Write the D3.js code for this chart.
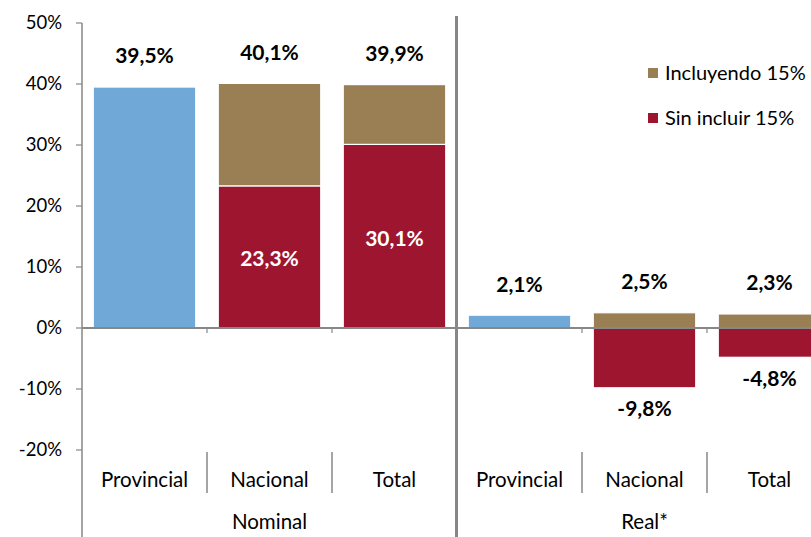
<!DOCTYPE html>
<html><head><meta charset="utf-8">
<script src="https://cdn.jsdelivr.net/npm/d3@7"></script>
<style>body{margin:0;background:#fff;} svg{display:block;}</style>
</head><body>
<script>
const categories = ["Provincial","Nacional","Total","Provincial","Nacional","Total"];
const groups = ["Nominal","Real*"];
const provincial = [39.5, null, null, 2.1, null, null];
const sinIncluir = [null, 23.3, 30.1, null, -9.8, -4.8];
const incluyendo = [null, 40.1, 39.9, null, 2.5, 2.3];
const yTicks = [-20,-10,0,10,20,30,40,50];
const legendLabels = ["Incluyendo 15%","Sin incluir 15%"];

const W=811,H=537;
const cBlue="#70A9D8", cBrown="#9A7F55", cRed="#9E1530", cGray="#878787";
const font="Lato, 'Open Sans', sans-serif";
const fmt = v => d3.format(".1f")(v).replace(".",",").replace("\u2212","-")+"%";

const svg=d3.select("body").append("svg").attr("width",W).attr("height",H);
const x=d3.scaleBand().domain(d3.range(categories.length)).range([82,832]).paddingInner(0.18).paddingOuter(0.09);
const y=d3.scaleLinear().domain([-20,50]).range([450,23]);
const step=x.step();
const slotStart=i=>82+i*step;

// bars
const g=svg.append("g");
categories.forEach((c,i)=>{
  const bx=x(i), bw=x.bandwidth();
  if(provincial[i]!=null){
    g.append("rect").attr("x",bx).attr("width",bw).attr("y",y(provincial[i])).attr("height",y(0)-y(provincial[i]))
     .attr("fill",cBlue).attr("stroke","#fff").attr("stroke-width",1.2);
  }
  if(sinIncluir[i]!=null){
    const v=sinIncluir[i];
    g.append("rect").attr("x",bx).attr("width",bw).attr("y",y(Math.max(0,v))).attr("height",Math.abs(y(v)-y(0)))
     .attr("fill",cRed).attr("stroke","#fff").attr("stroke-width",1.2);
  }
  if(incluyendo[i]!=null){
    const base=Math.max(0,sinIncluir[i]||0);
    g.append("rect").attr("x",bx).attr("width",bw).attr("y",y(incluyendo[i])).attr("height",y(base)-y(incluyendo[i]))
     .attr("fill",cBrown).attr("stroke","#fff").attr("stroke-width",1.2);
  }
});

// y axis
svg.append("line").attr("x1",82).attr("x2",82).attr("y1",y(50)).attr("y2",H).attr("stroke",cGray).attr("stroke-width",1.5);
yTicks.forEach(t=>{
  svg.append("line").attr("x1",76).attr("x2",82).attr("y1",y(t)).attr("y2",y(t)).attr("stroke",cGray).attr("stroke-width",1.2);
  svg.append("text").attr("x",62).attr("y",y(t)).attr("dy","0.35em").attr("text-anchor","end")
    .attr("font-family",font).attr("font-size",18.5).attr("fill","#000").text(t+"%");
});
// zero line
svg.append("line").attr("x1",82).attr("x2",W).attr("y1",y(0)).attr("y2",y(0)).attr("stroke",cGray).attr("stroke-width",2);
// category separators and ticks
[1,2,4,5].forEach(i=>{
  const sx=slotStart(i);
  svg.append("line").attr("x1",sx).attr("x2",sx).attr("y1",y(0)).attr("y2",y(0)+5).attr("stroke",cGray).attr("stroke-width",1.2);
  svg.append("line").attr("x1",sx).attr("x2",sx).attr("y1",452).attr("y2",493).attr("stroke",cGray).attr("stroke-width",1.5);
});
// group divider
svg.append("line").attr("x1",slotStart(3)-0.5).attr("x2",slotStart(3)-0.5).attr("y1",16).attr("y2",H).attr("stroke",cGray).attr("stroke-width",3);

// category labels
categories.forEach((c,i)=>{
  svg.append("text").attr("x",x(i)+x.bandwidth()/2).attr("y",480).attr("dy","0.35em").attr("text-anchor","middle")
    .attr("font-family",font).attr("font-size",20.5).attr("fill","#000").text(c);
});
groups.forEach((gname,k)=>{
  svg.append("text").attr("x",slotStart(k*3)+1.5*step).attr("y",522).attr("dy","0.35em").attr("text-anchor","middle")
    .attr("font-family",font).attr("font-size",20.5).attr("fill","#000").text(gname);
});

// data labels
categories.forEach((c,i)=>{
  const cx=x(i)+x.bandwidth()/2;
  const top = provincial[i]!=null?provincial[i]:incluyendo[i];
  svg.append("text").attr("x",cx).attr("y",y(top)-31).attr("dy","0.35em").attr("text-anchor","middle")
    .attr("font-family",font).attr("font-weight","bold").attr("font-size",21).attr("fill","#000").text(fmt(top));
  if(sinIncluir[i]!=null){
    const v=sinIncluir[i];
    if(v>0){
      svg.append("text").attr("x",cx).attr("y",(y(v)+y(0))/2+2).attr("dy","0.35em").attr("text-anchor","middle")
        .attr("font-family",font).attr("font-weight","bold").attr("font-size",21).attr("fill","#fff").text(fmt(v));
    } else {
      svg.append("text").attr("x",cx).attr("y",y(v)+21).attr("dy","0.35em").attr("text-anchor","middle")
        .attr("font-family",font).attr("font-weight","bold").attr("font-size",21).attr("fill","#000").text(fmt(v));
    }
  }
});

// legend
const legColors=[cBrown,cRed];
legendLabels.forEach((l,k)=>{
  const ly=73+k*45;
  svg.append("rect").attr("x",648).attr("y",ly-5).attr("width",10).attr("height",10).attr("fill",legColors[k]);
  svg.append("text").attr("x",665).attr("y",ly).attr("dy","0.35em").attr("font-family",font).attr("font-size",20).attr("fill","#000").text(l);
});
</script>
</body></html>
